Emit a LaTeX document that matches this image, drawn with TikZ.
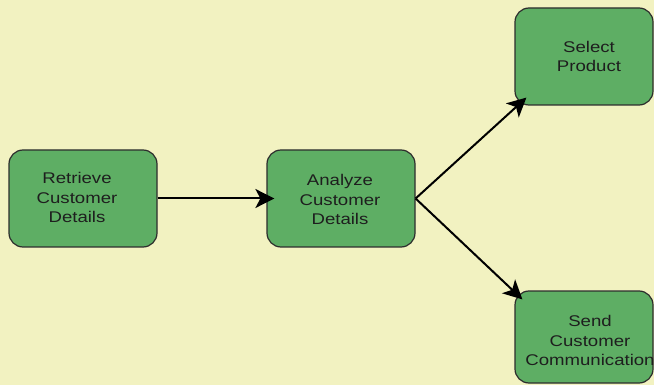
\documentclass[tikz,border=0pt]{standalone}
\usepackage{fontspec}
\setmainfont[FakeStretch=1.2]{Liberation Sans}
\usetikzlibrary{arrows.meta}
\definecolor{bg}{RGB}{242,242,193}
\definecolor{boxgreen}{RGB}{94,174,100}
\definecolor{boxline}{RGB}{45,45,45}
\definecolor{txt}{RGB}{30,30,30}
\begin{document}
\begin{tikzpicture}[x=1pt,y=-1pt,
  box/.style={draw=boxline,fill=boxgreen,line width=1.2pt,rounded corners=14pt,inner sep=0pt},
  lbl/.style={align=center,text=txt,font=\fontsize{15.5}{19.5}\selectfont,inner sep=0pt},
  conn/.style={line width=2pt,-{Stealth[length=19pt,width=19pt,inset=5pt]}}]
\fill[bg] (0,0) rectangle (654,385);
\useasboundingbox (0,0) rectangle (654,385);
\node[box,minimum width=148pt,minimum height=97pt] (ret) at (83,198.5) {};
\node[box,minimum width=148pt,minimum height=97pt] (ana) at (341,198.5) {};
\node[box,minimum width=138pt,minimum height=97pt] (sel) at (584,56.5) {};
\node[box,minimum width=138pt,minimum height=92pt] (snd) at (584,337) {};
\node[lbl] (retl) at (77,197.5) {Retrieve\\Customer\\Details};
\node[lbl] (anal) at (340,199.5) {Analyze\\Customer\\Details};
\node[lbl] (sell) at (589,56.5) {Select\\Product};
\node[lbl] (sndl) at (590,340.5) {Send\\Customer\\Communication};
\draw[conn] (ret.east) -- ([xshift=8pt]ana.west);
\draw[conn] (ana.east) -- ([xshift=12pt,yshift=8pt]sel.south west);
\draw[conn] (ana.east) -- ([xshift=8pt,yshift=-9pt]snd.north west);
\end{tikzpicture}
\end{document}
